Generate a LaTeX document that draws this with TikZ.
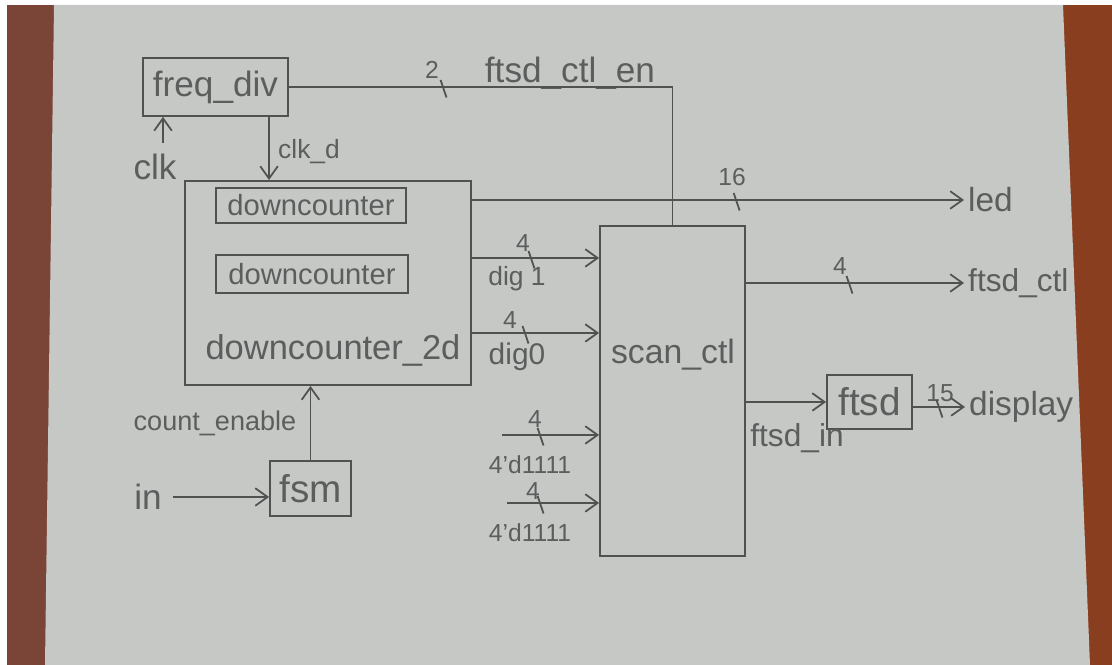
\documentclass[tikz,border=0pt]{standalone}
\usepackage{fontspec}
\setmainfont{Liberation Sans}
\usepackage{tikz}
\usetikzlibrary{arrows.meta, positioning, decorations.markings}
\definecolor{paper}{RGB}{197,200,197}
\definecolor{woodL}{RGB}{122,68,54}
\definecolor{woodR}{RGB}{138,62,32}
\definecolor{pencil}{RGB}{80,82,82}
\definecolor{lead}{RGB}{92,94,94}
\newcommand{\fsz}[1]{\fontsize{#1}{#1}\selectfont}

\begin{document}
\begin{tikzpicture}[
      x=0.01cm, y=-0.01cm,
      >={Straight Barb[length=3.5pt, width=5pt]},
      block/.style={rectangle, draw=pencil, line width=0.5pt, inner sep=0pt, text=lead, font=\fsz{10}},
      lbl/.style={text=lead, inner sep=1pt, font=\fsz{9}},
      small/.style={text=lead, inner sep=1pt, font=\fsz{7}},
      wire/.style={draw=pencil, line width=0.5pt},
      sig/.style={wire, ->},
      bus/.style={postaction={decorate, decoration={markings,
          mark=at position #1 with {\draw[-, pencil, line width=0.5pt] (-0.7pt,2pt) -- (1pt,-3pt);}}}}
  ]
      % Desk and sheet
      \fill[white] (0,0) rectangle (1112,665);
      \fill[woodL] (7,5) rectangle (1112,665);
      \fill[woodR] (1040,5) rectangle (1112,665);
      \fill[paper] (54,5) -- (1063,5) -- (1090,665) -- (45,665) -- cycle;
      \useasboundingbox (0,0) rectangle (1112,665);

      % Blocks
      \node[block, minimum width=1.45cm, minimum height=0.58cm] (freqdiv) at (215.5,87) {freq\_div};
      \node[block, minimum width=2.86cm, minimum height=2.04cm] (dc2d) at (328,283) {};
      \node[block, minimum width=1.90cm, minimum height=0.35cm, font=\fsz{8.3}] (dcA) at (311,205.5) {downcounter};
      \node[block, minimum width=1.92cm, minimum height=0.38cm, font=\fsz{8.3}] (dcB) at (312,274) {downcounter};
      \node[lbl, font=\fsz{9.8}] (dc2dname) at (333,350) {downcounter\_2d};
      \node[block, minimum width=1.45cm, minimum height=3.30cm] (scanctl) at (672.5,391) {};
      \node[lbl, font=\fsz{9.6}] (scanname) at (673,355) {scan\_ctl};
      \node[block, minimum width=0.85cm, minimum height=0.54cm, font=\fsz{11}] (ftsd) at (869.5,402) {ftsd};
      \node[block, minimum width=0.81cm, minimum height=0.55cm, font=\fsz{11}] (fsm) at (310.5,488.5) {fsm};

      % Ports and signal names
      \coordinate (clksrc) at (163,143);
      \node[lbl, font=\fsz{10}] (clk) at (155,167) {clk};
      \node[lbl, font=\fsz{7.5}, anchor=west] (clkd) at (274,152) {clk\_d};
      \node[lbl, font=\fsz{10}] (ctlen) at (570,73) {ftsd\_ctl\_en};
      \node[small] (wen) at (432,70) {2};
      \node[lbl, font=\fsz{9.5}, anchor=west] (led) at (964,200) {led};
      \node[small] (wled) at (732,177) {16};
      \node[small] (wdig1) at (523,243) {4};
      \node[lbl, font=\fsz{7.5}] (dig1) at (517,279) {dig 1};
      \node[small] (wdig0) at (510,320) {4};
      \node[lbl, font=\fsz{8.5}] (dig0) at (517,357) {dig0};
      \coordinate (constA) at (502,435);
      \coordinate (constB) at (507,503);
      \node[small] (wconstA) at (535,419) {4};
      \node[lbl, font=\fsz{7}] (constAname) at (530,465) {4'd1111};
      \node[small] (wconstB) at (533,491) {4};
      \node[lbl, font=\fsz{7}] (constBname) at (530,533) {4'd1111};
      \node[lbl, font=\fsz{9}, anchor=west] (ftsdctl) at (964,283) {ftsd\_ctl};
      \node[small] (wctl) at (840,266) {4};
      \node[lbl, font=\fsz{9}] (ftsdin) at (797,438) {ftsd\_in};
      \node[lbl, font=\fsz{9.5}, anchor=west] (display) at (965,407) {display};
      \node[small] (wdisp) at (940,393) {15};
      \node[lbl, font=\fsz{7.7}] (cen) at (215,423) {count\_enable};
      \node[lbl, font=\fsz{10}] (in) at (148,497) {in};

      % Connections
      \draw[wire, bus=1.54cm] (freqdiv.east) -| (scanctl.north);
      \draw[sig] (clksrc) -- (clksrc |- freqdiv.south);
      \draw[sig] ([xshift=0.535cm]freqdiv.south) -- ([xshift=0.535cm]freqdiv.south |- dc2d.north);
      \draw[sig, bus=2.64cm] (dc2d.east |- led) -- (led);
      \draw[sig, bus=0.59cm] (dc2d.east |- 0,258) -- (scanctl.west |- 0,258);
      \draw[sig, bus=0.53cm] (dc2d.east |- 0,333) -- (scanctl.west |- 0,333);
      \draw[sig, bus=0.38cm] (constA) -- (scanctl.west |- constA);
      \draw[sig, bus=0.33cm] (constB) -- (scanctl.west |- constB);
      \draw[sig, bus=1.03cm] (scanctl.east |- ftsdctl) -- (ftsdctl);
      \draw[sig] (scanctl.east |- ftsd) -- (ftsd);
      \draw[sig, bus=0.26cm] (ftsd.east |- display) -- (display);
      \draw[sig, shorten <=2pt] (in) -- (fsm.west |- in);
      \draw[sig] (fsm.north) -- (fsm.north |- dc2d.south);

  \end{tikzpicture}
\end{document}
